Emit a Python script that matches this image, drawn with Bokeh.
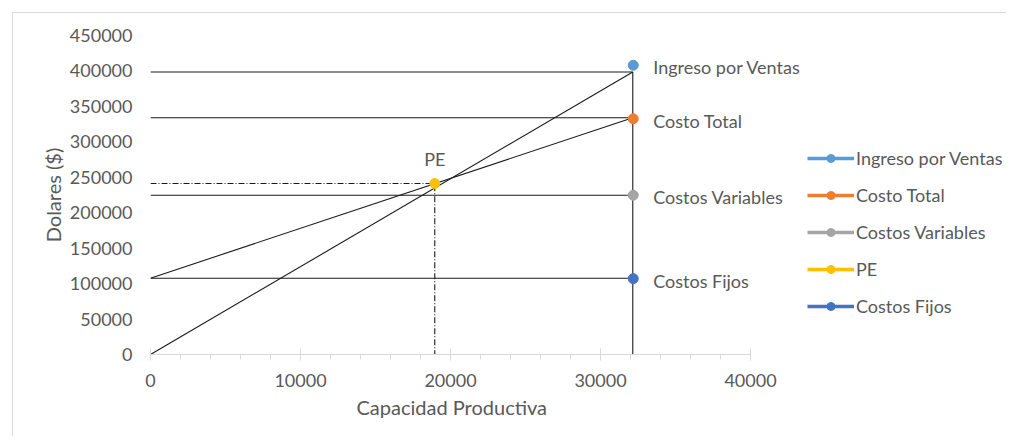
from bokeh.plotting import figure
from bokeh.models import (Label, Legend, LegendItem, Range1d, FixedTicker, NumeralTickFormatter,
                          Title)
from bokeh.embed import file_html
from bokeh.resources import INLINE

# ---- data ----
capacidad_max = 32150      # x of the vertical line / right end of the lines
ingreso_total = 398500     # revenue at full capacity
costo_total = 334000       # total cost at full capacity
costo_variable = 224700    # variable cost at full capacity
costo_fijo = 107600        # fixed cost
pe_x = 18950               # break-even quantity
pe_y = 241200              # break-even dollars

series_names = ["Ingreso por Ventas", "Costo Total", "Costos Variables", "PE", "Costos Fijos"]
series_x = [32180, 32180, 32180, 18950, 32180]
series_y = [408000, 332500, 224700, 241200, 107000]
series_colors = ["#5B9BD5", "#ED7D31", "#A5A5A5", "#FFC000", "#4472C4"]

x_ticks = [0, 10000, 20000, 30000, 40000]
x_minor_ticks = [0, 2000, 4000, 6000, 8000, 10000, 12000, 14000, 16000, 18000, 20000,
                 22000, 24000, 26000, 28000, 30000, 32000, 34000, 36000, 38000, 40000]
y_ticks = [0, 50000, 100000, 150000, 200000, 250000, 300000, 350000, 400000, 450000]
x_axis_max = 40000
x_view_max = 57130   # plot area continues to the right (labels + legend live there)
x_title = "Capacidad Productiva"
y_title = "Dolares ($)"

FONT = "Lato"
FS = "18px"
FS_TITLE = "20px"
TXT = "#595959"

p = figure(width=994, height=424,
           x_range=Range1d(0, x_view_max), y_range=Range1d(0, 450000),
           output_backend="svg", toolbar_location=None,
           min_border_left=137, min_border_right=0,
           min_border_top=22, min_border_bottom=83)
p.margin = (12, 0, 0, 12)
p.styles = {"border-top": "1px solid #d9d9d9", "border-left": "1px solid #d9d9d9"}
p.outline_line_color = None
p.grid.visible = False
p.background_fill_color = "white"
p.border_fill_color = "white"

# x axis
xa = p.xaxis[0]
xa.bounds = (0, x_axis_max)
xa.ticker = FixedTicker(ticks=x_ticks, minor_ticks=x_minor_ticks)
xa.axis_line_color = "#d9d9d9"
xa.major_tick_line_color = "#d9d9d9"
xa.minor_tick_line_color = "#d9d9d9"
xa.major_tick_in = 6
xa.major_tick_out = 6
xa.minor_tick_in = 0
xa.minor_tick_out = 5
xa.major_label_standoff = 13
xa.major_label_text_font = FONT
xa.major_label_text_font_size = FS
xa.major_label_text_color = TXT

# x axis title, centred under the 0..40000 part of the axis
p.add_layout(Title(text=x_title, align="left", offset=206, standoff=7,
                   text_font=FONT, text_font_size=FS_TITLE, text_font_style="normal",
                   text_color=TXT), "below")

# y axis
ya = p.yaxis[0]
ya.ticker = FixedTicker(ticks=y_ticks)
ya.formatter = NumeralTickFormatter(format="0")
ya.axis_line_color = None
ya.major_tick_line_color = None
ya.minor_tick_line_color = None
ya.major_tick_in = 0
ya.major_tick_out = 0
ya.major_label_standoff = 18
ya.major_label_text_font = FONT
ya.major_label_text_font_size = FS
ya.major_label_text_color = TXT
ya.axis_label = y_title
ya.axis_label_text_font = FONT
ya.axis_label_text_font_size = FS_TITLE
ya.axis_label_text_font_style = "normal"
ya.axis_label_text_color = TXT
ya.axis_label_standoff = 2

# black construction lines
LC = "#1a1a1a"
LW = 1.1
p.line([0, capacidad_max], [0, ingreso_total], line_color=LC, line_width=LW)
p.line([0, capacidad_max], [costo_fijo, costo_total], line_color=LC, line_width=LW)
p.line([0, capacidad_max], [ingreso_total, ingreso_total], line_color=LC, line_width=LW)
p.line([0, capacidad_max], [costo_total, costo_total], line_color=LC, line_width=LW)
p.line([0, capacidad_max], [costo_variable, costo_variable], line_color=LC, line_width=LW)
p.line([0, capacidad_max], [costo_fijo, costo_fijo], line_color=LC, line_width=LW)
p.line([capacidad_max, capacidad_max], [0, ingreso_total], line_color=LC, line_width=LW)
p.line([0, pe_x, pe_x], [pe_y, pe_y, 0], line_color=LC, line_width=LW, line_dash="6 2 1 2")

# marker series + legend
items = []
for name, x, y, c in zip(series_names, series_x, series_y, series_colors):
    rl = p.line([x], [y], line_color=c, line_width=3.3)
    rs = p.scatter([x], [y], size=10, fill_color=c, line_color=c)
    items.append(LegendItem(label=name, renderers=[rl, rs]))
    if name == "PE":
        p.add_layout(Label(x=x, y=y, y_offset=25, text=name, text_align="center",
                           text_baseline="middle", text_font=FONT, text_font_size=FS,
                           text_color=TXT))
    else:
        p.add_layout(Label(x=x, y=y, x_offset=20, y_offset=-2, text=name, text_align="left",
                           text_baseline="middle", text_font=FONT, text_font_size=FS,
                           text_color=TXT))

legend = Legend(items=items, location=(657, 37), orientation="vertical",
                border_line_color=None, background_fill_alpha=0,
                padding=0, margin=0, spacing=15,
                glyph_width=47, glyph_height=20, label_height=20, label_standoff=2,
                label_text_font=FONT, label_text_font_size=FS, label_text_color=TXT)
p.add_layout(legend)

open("out.html", "w").write(file_html(p, INLINE))
